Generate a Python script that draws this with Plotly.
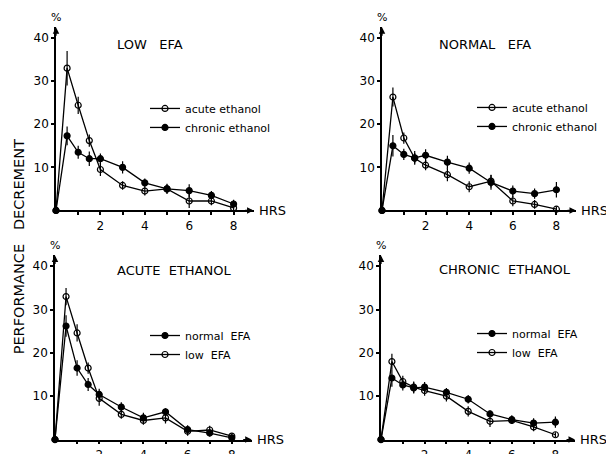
import plotly.graph_objects as go

# the page puts the plot about 8px in from the window corner and the
# photograph comes out a little squeezed vertically; map window pixels
# to paper fractions with these measured factors
OFF_X, OFF_Y, SY = 8, 7.7, 0.982
W, H = 606, 454
FONT = "DejaVu Sans"

# sampling times (hours after dose)
hours = [0, 0.5, 1, 1.5, 2, 3, 4, 5, 6, 7, 8]
x_ticks = [1, 2, 3, 4, 5, 6, 7, 8]
x_tick_text = ["", "2", "", "4", "", "6", "", "8"]
y_ticks = [10, 20, 30, 40]

# LOW EFA panel
low_acute = [0, 33, 24.4, 16.2, 9.5, 5.8, 4.5, 5.0, 2.2, 2.2, 0.6]
low_acute_err = [0, 4, 2, 1.4, 1.5, 1, 1, 1, 1.6, 1, 0.8]
low_chronic = [0, 17.3, 13.5, 12, 12, 10, 6.4, 5, 4.6, 3.5, 1.5]
low_chronic_err = [0, 2.2, 1.5, 1.7, 1.2, 1.4, 1, 1.2, 1.5, 1, 1]

# NORMAL EFA panel
norm_acute = [0, 26.3, 16.8, 12.1, 10.5, 8.3, 5.5, 6.8, 2.2, 1.4, 0.3]
norm_acute_err = [0, 2.2, 1.3, 1.2, 1.2, 1.5, 1.3, 1.5, 1.2, 1, 0.6]
norm_chronic = [0, 15, 13, 12.2, 12.8, 11.2, 9.8, 6.5, 4.5, 3.9, 4.8]
norm_chronic_err = [0, 2.5, 1.3, 1.6, 1.4, 1.5, 1.3, 1.7, 1.3, 1.2, 1.8]

# ACUTE ETHANOL panel
ac_normal = [0, 26.2, 16.5, 12.7, 10.4, 7.5, 5.0, 6.4, 2.3, 1.5, 0.4]
ac_normal_err = [0, 2.5, 1.8, 1.5, 1.3, 1.1, 1.2, 0.8, 1.0, 0.8, 0.5]
ac_low = [0, 33, 24.6, 16.5, 9.5, 5.8, 4.4, 5.0, 1.9, 2.2, 0.8]
ac_low_err = [0, 2, 2, 1.3, 1.7, 1, 1, 1.3, 1, 1, 0.6]

# CHRONIC ETHANOL panel
ch_normal = [0, 14.2, 12.6, 11.9, 12.1, 10.9, 9.3, 5.9, 4.6, 3.8, 4.0]
ch_normal_err = [0, 2, 1.3, 1.3, 1.2, 1.0, 1.0, 0.8, 1.0, 1.1, 1.3]
ch_low = [0, 18, 13.4, 12.1, 11.3, 10, 6.5, 4.2, 4.4, 2.9, 1.1]
ch_low_err = [0, 1.8, 1.3, 1.3, 1.2, 1.2, 1.2, 1.3, 0.8, 1, 0.6]


def px(x):
    return (x - OFF_X) / W


def py(y):
    return 1 - ((y - OFF_Y) / SY) / H


panels = [
    # placement in window pixels: x0, px per hr, y0, px per 10 units
    dict(title="LOW   EFA", x0=56, hr=22.2, y0=211, ten=43.3,
         tpos=(150, 44),
         series=[("acute ethanol", low_acute, low_acute_err, "open"),
                 ("chronic ethanol", low_chronic, low_chronic_err, "filled")],
         legend=(145, 94)),
    dict(title="NORMAL   EFA", x0=382, hr=21.8, y0=211, ten=43.3,
         tpos=(485, 44),
         series=[("acute ethanol", norm_acute, norm_acute_err, "open"),
                 ("chronic ethanol", norm_chronic, norm_chronic_err, "filled")],
         legend=(472, 93)),
    dict(title="ACUTE  ETHANOL", x0=55, hr=22.1, y0=441, ten=43.5,
         tpos=(174, 271),
         series=[("normal  EFA", ac_normal, ac_normal_err, "filled"),
                 ("low  EFA", ac_low, ac_low_err, "open")],
         legend=(145, 322)),
    dict(title="CHRONIC  ETHANOL", x0=381, hr=21.8, y0=441, ten=43.5,
         tpos=(505, 270),
         series=[("normal  EFA", ch_normal, ch_normal_err, "filled"),
                 ("low  EFA", ch_low, ch_low_err, "open")],
         legend=(472, 320)),
]

XMAX, YMAX = 8.9, 42.5

fig = go.Figure()
annotations = []
layout = dict(
    width=W, height=H,
    margin=dict(l=0, r=0, t=0, b=0),
    paper_bgcolor="white", plot_bgcolor="white",
    font=dict(family=FONT, color="black", size=12),
    showlegend=True,
)

for i, p in enumerate(panels):
    n = "" if i == 0 else str(i + 1)
    xa, ya = "x" + n, "y" + n
    leg = "legend" + n

    layout["xaxis" + n] = dict(
        domain=[px(p["x0"]), px(p["x0"] + XMAX * p["hr"])],
        range=[0, XMAX], anchor=ya,
        showline=True, linecolor="black", linewidth=1.5,
        showgrid=False, zeroline=False,
        tickvals=x_ticks, ticktext=x_tick_text, ticks="outside",
        ticklen=3, tickwidth=1.5, tickcolor="black",
        tickfont=dict(size=12, family=FONT),
    )
    layout["yaxis" + n] = dict(
        domain=[py(p["y0"]), py(p["y0"] - YMAX / 10 * p["ten"])],
        range=[0, YMAX], anchor=xa,
        showline=True, linecolor="black", linewidth=1.5,
        showgrid=False, zeroline=False,
        tickvals=y_ticks, ticks="outside", ticklen=3, tickwidth=1.5,
        tickcolor="black", tickfont=dict(size=12, family=FONT),
    )
    lx, ly = p["legend"]
    layout[leg] = dict(
        x=px(lx), y=py(ly), xanchor="left", yanchor="top",
        bgcolor="rgba(0,0,0,0)", borderwidth=0,
        font=dict(size=11, family=FONT), itemwidth=30,
        tracegroupgap=0,
    )

    for name, vals, err, style in p["series"]:
        fig.add_trace(go.Scatter(
            x=hours, y=vals, name=name, mode="lines+markers",
            xaxis=xa, yaxis=ya, legend=leg, cliponaxis=False,
            line=dict(color="black", width=1.3),
            marker=dict(
                symbol="circle-open" if style == "open" else "circle",
                size=6, color="black", line=dict(width=1.2, color="black"),
            ),
            error_y=dict(type="data", array=err, visible=True,
                         color="black", thickness=1.2, width=0),
        ))

    # axis arrows
    annotations.append(dict(x=XMAX, y=0, xref=xa, yref=ya, ax=-10, ay=0,
                            text="", showarrow=True, arrowhead=2,
                            arrowsize=1, arrowwidth=1.3, arrowcolor="black"))
    annotations.append(dict(x=0, y=YMAX, xref=xa, yref=ya, ax=0, ay=10,
                            text="", showarrow=True, arrowhead=2,
                            arrowsize=1, arrowwidth=1.3, arrowcolor="black"))
    # HRS label
    annotations.append(dict(x=XMAX, y=0, xref=xa, yref=ya, text="HRS",
                            showarrow=False, xanchor="left", yanchor="middle",
                            xshift=3, font=dict(size=13, family=FONT)))
    # percent sign
    annotations.append(dict(x=0, y=YMAX, xref=xa, yref=ya, text="%",
                            showarrow=False, xanchor="center",
                            yanchor="bottom", yshift=1,
                            font=dict(size=11, family=FONT)))
    # panel title
    tx, ty = p["tpos"]
    annotations.append(dict(x=px(tx), y=py(ty), xref="paper", yref="paper",
                            text=p["title"], showarrow=False,
                            xanchor="center", yanchor="middle",
                            font=dict(size=13, family=FONT)))

annotations.append(dict(x=px(19), y=py(248), xref="paper", yref="paper",
                        text="PERFORMANCE   DECREMENT", textangle=-90,
                        showarrow=False, xanchor="center", yanchor="middle",
                        font=dict(size=14.5, family=FONT)))
layout["annotations"] = annotations

fig.update_layout(**layout)
fig.write_html("out.html")
